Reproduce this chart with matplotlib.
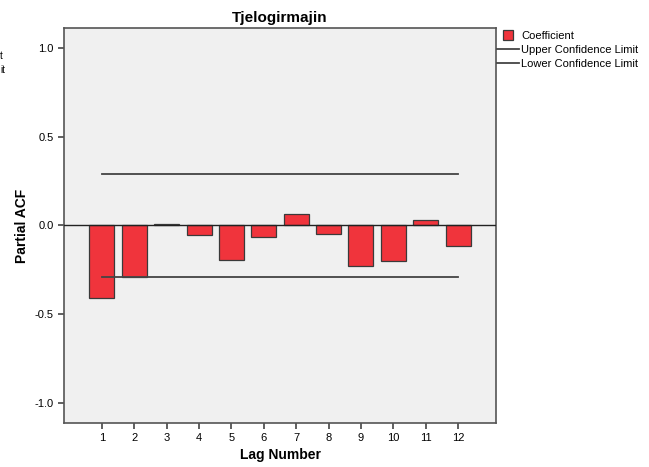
import matplotlib
matplotlib.use("Agg")
import matplotlib.pyplot as plt
from matplotlib.lines import Line2D

plt.rcParams['font.family'] = ['Liberation Sans', 'DejaVu Sans']

# data
lags = [1, 2, 3, 4, 5, 6, 7, 8, 9, 10, 11, 12]
pacf = [-0.405, -0.287, 0.01, -0.056, -0.195, -0.062, 0.064, -0.049, -0.225, -0.2, 0.03, -0.115]
upper = [0.292] * 12
lower = [-0.29] * 12

fig = plt.figure(figsize=(6.49, 4.67), dpi=100)
ax = fig.add_axes([64 / 649, 1 - 423 / 467, (496 - 64) / 649, (423 - 28) / 467])
ax.set_facecolor('#f0f0f0')

ax.bar(lags, pacf, width=0.77, color='#f0343c', edgecolor='#3a3a3a', linewidth=0.9, zorder=3)
ax.axhline(0, color='#222222', linewidth=1.0, zorder=4)
ax.plot(lags, upper, color='#444444', linewidth=1.3, zorder=4)
ax.plot(lags, lower, color='#444444', linewidth=1.3, zorder=4)

ax.set_xlim(-0.17, 13.17)
ax.set_ylim(-1.11, 1.11)
ax.set_xticks(lags)
ax.set_yticks([-1.0, -0.5, 0.0, 0.5, 1.0])
ax.set_yticklabels(['-1.0', '-0.5', '0.0', '0.5', '1.0'])
ax.tick_params(axis='both', direction='out', length=4, width=1.2, color='#444444', labelsize=8)
ax.tick_params(axis='x', pad=3)
for s in ['left', 'bottom', 'top', 'right']:
    ax.spines[s].set_color('#555555')
    ax.spines[s].set_linewidth(1.2)

ax.set_title('Tjelogirmajin', fontsize=11, fontweight='bold', pad=4)
ax.set_ylabel('Partial ACF', fontsize=10, fontweight='bold', labelpad=4)
ax.set_xlabel('Lag Number', fontsize=10, fontweight='bold', labelpad=4)

handles = [Line2D([], [], linestyle='none', marker='s', markersize=7.5,
                  markerfacecolor='#f0343c', markeredgecolor='#3a3a3a', markeredgewidth=0.9),
           Line2D([], [], color='#444444', linewidth=1.3),
           Line2D([], [], color='#444444', linewidth=1.3)]
fig.legend(handles, ['Coefficient', 'Upper Confidence Limit', 'Lower Confidence Limit'],
           loc='upper left', bbox_to_anchor=(497 / 649, 1 - 31 / 467), frameon=False,
           fontsize=8, handlelength=2.0, handleheight=0.8, handletextpad=0.15,
           labelspacing=0.35, borderaxespad=0, borderpad=0)

# clipped leftovers at the left edge
fig.text(0, 1 - 56 / 467, 't', fontsize=7, va='center', ha='left')
fig.text(0, 1 - 70 / 467, 'it', fontsize=7, va='center', ha='left')

fig.savefig('out.png', dpi=100)
